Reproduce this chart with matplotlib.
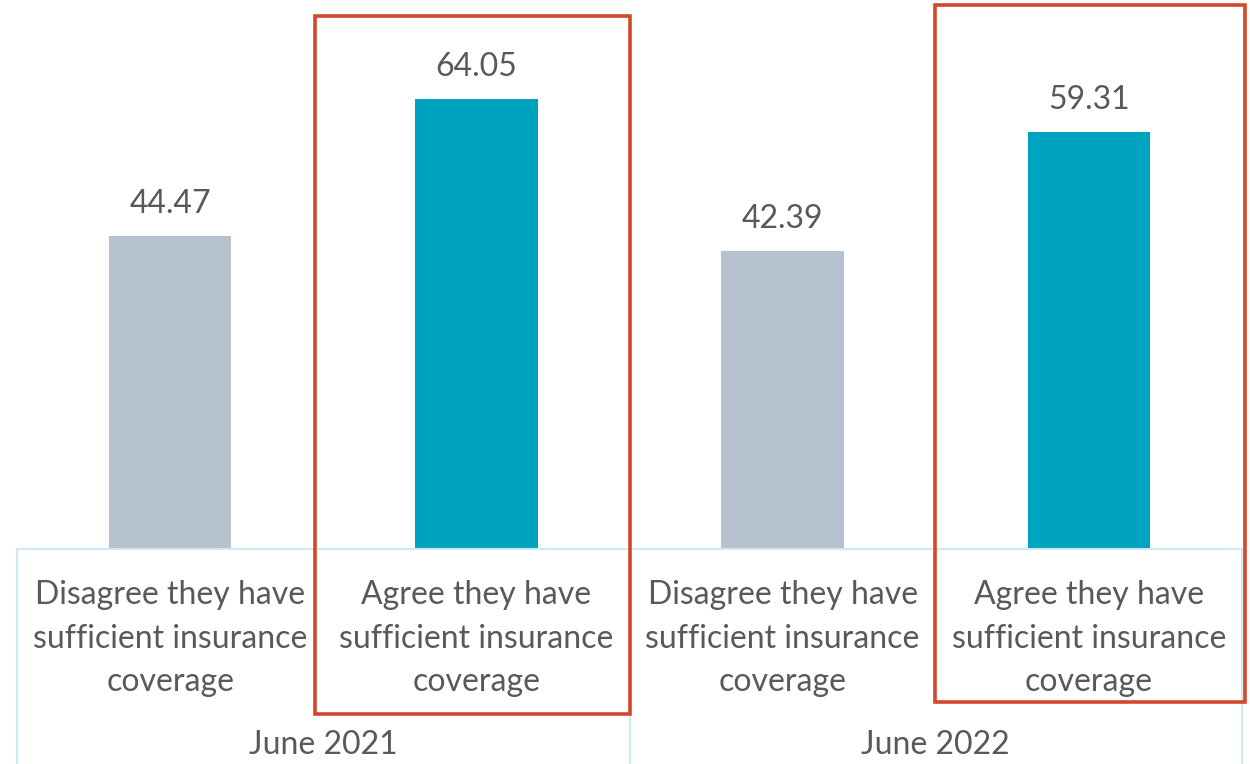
import matplotlib
matplotlib.use("Agg")
import matplotlib.pyplot as plt
from matplotlib.patches import Rectangle
import matplotlib.transforms as mtransforms

# ---- data ----
categories = [
    "Disagree they have\nsufficient insurance\ncoverage",
    "Agree they have\nsufficient insurance\ncoverage",
    "Disagree they have\nsufficient insurance\ncoverage",
    "Agree they have\nsufficient insurance\ncoverage",
]
values = [44.47, 64.05, 42.39, 59.31]
groups = ["June 2021", "June 2022"]
bar_colors = ["#B6C1D0", "#00A3BF", "#B6C1D0", "#00A3BF"]

plt.rcParams['font.family'] = ['Lato', 'DejaVu Sans']
TXT = "#595959"

W, H = 1250, 764
fig = plt.figure(figsize=(W / 100, H / 100), dpi=100)
ax_left, ax_right, ax_base, ax_top = 17, 1242, 549, 0
ax = fig.add_axes([ax_left / W, (H - ax_base) / H,
                   (ax_right - ax_left) / W, (ax_base - ax_top) / H])

x = list(range(len(values)))
ax.bar(x, values, width=0.40, color=bar_colors, zorder=2)
ax.set_xlim(-0.5, len(values) - 0.5)
ax.set_ylim(0, 78.1)
ax.axis("off")

for xi, v in zip(x, values):
    ax.annotate(f"{v:.2f}", (xi, v), xytext=(0, 16.5), textcoords="offset points",
                ha="center", va="baseline", fontsize=23, color=TXT)

# category axis table
trans = mtransforms.blended_transform_factory(ax.transData, ax.transAxes)
ax_h = ax_base - ax_top
def py(px):  # pixel below top -> axes fraction
    return (ax_base - px) / ax_h

line_c = "#CFE8F7"
ax.plot([0, 1], [0, 0], transform=ax.transAxes, color=line_c, lw=1.5, clip_on=False)
for xf in [0, 0.5, 1]:
    ax.plot([xf, xf], [0, py(764)], transform=ax.transAxes, color=line_c, lw=1.5,
            clip_on=False)

for xi, lab in zip(x, categories):
    ax.text(xi, py(638.5), lab, transform=trans, ha="center", va="center",
            multialignment="center", fontsize=23, color=TXT, linespacing=1.55)
for gi, g in enumerate(groups):
    ax.text(gi * 2 + 0.5, py(745), g, transform=trans, ha="center", va="center",
            fontsize=23, color=TXT)

# red highlight boxes (figure pixel coordinates)
red = "#D3472B"
for (x0, y0, x1, y1) in [(315, 16, 630, 714), (935, 5, 1245, 702)]:
    fig.patches.append(Rectangle((x0 / W, 1 - y1 / H), (x1 - x0) / W, (y1 - y0) / H,
                                 transform=fig.transFigure, fill=False,
                                 edgecolor=red, lw=2.6, zorder=5))

fig.savefig("out.png", dpi=100)
